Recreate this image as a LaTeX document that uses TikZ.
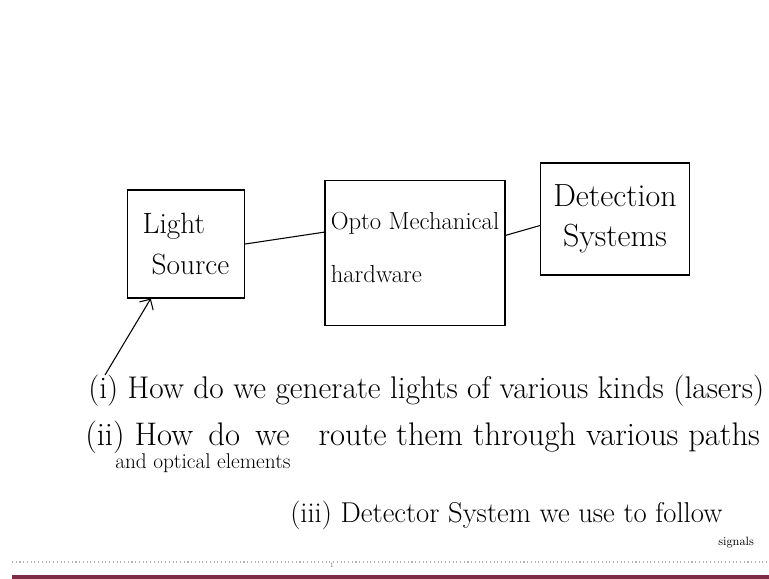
\documentclass[tikz,border=0pt]{standalone}
\usepackage{xcolor}
\usetikzlibrary{arrows.meta}
\definecolor{barmaroon}{RGB}{125,45,70}

\begin{document}
\begin{tikzpicture}[x=0.75pt,y=-0.75pt,
    blockbox/.style={draw,thick,align=left,inner sep=2pt},
    noteline/.style={anchor=base west,inner sep=0pt}]
                \useasboundingbox (0,0) rectangle (769,579);

                % the three blocks
                \node[blockbox,minimum width=88pt,minimum height=81pt,font=\fontsize{22}{31}\selectfont] (ls) at (186,244) {Light\\\ Source};
                \node[blockbox,minimum width=135pt,minimum height=109pt,font=\fontsize{18.5}{40}\selectfont] (om) at (415,253) {Opto Mechanical\\hardware\vspace{8pt}};
                \node[blockbox,minimum width=112pt,minimum height=84pt,font=\fontsize{24}{30}\selectfont] (det) at (615,219) {Detection\\\ Systems};

                \draw[thick] (ls.east) -- (om.167);
                \draw[thick] (om.11) -- (det.185);

                \coordinate (tail) at (105,375);
                \draw[thick,-{Straight Barb[length=6pt]}] (tail) -- ([xshift=18pt]ls.south west);

                % questions
                \node[noteline,font=\fontsize{23.5}{25}\selectfont] (q1) at (88,398) {(i) How do we generate lights of various kinds (lasers)};
                \node[noteline,font=\fontsize{24.5}{26}\selectfont] (q2) at (85,445) {(ii) How \,do \,we \; route them through various paths};
                \node[noteline,font=\fontsize{16}{18}\selectfont] (q2b) at (115,468) {and optical elements};
                \node[noteline,font=\fontsize{21.5}{23}\selectfont] (q3) at (290,522) {(iii) Detector System we use to follow};
                \node[noteline,font=\fontsize{9}{10}\selectfont] (sig) at (718,545) {signals};

                % page footer
                \draw[gray!60,dotted,thick] (12,562) -- (769,562);
                \node[gray,font=\tiny] (pg) at (332,565) {1};
                \fill[barmaroon] (12,575) rectangle (769,579);
            \end{tikzpicture}
\end{document}
